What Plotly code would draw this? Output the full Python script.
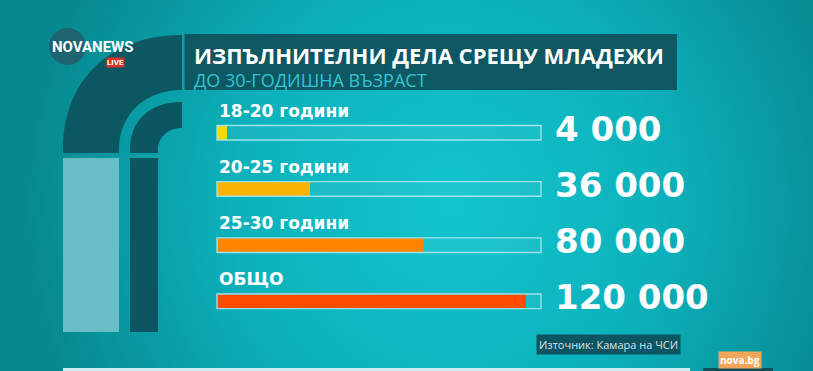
import base64
import plotly.graph_objects as go

# ---- data ----
categories = ["18-20 години", "20-25 години", "25-30 години", "ОБЩО"]
values = [4000, 36000, 80000, 120000]
bar_colors = ["#f4d800", "#f8b300", "#fd8500", "#fe4b00"]
title = "ИЗПЪЛНИТЕЛНИ ДЕЛА СРЕЩУ МЛАДЕЖИ"
subtitle = "ДО 30-ГОДИШНА ВЪЗРАСТ"
source = "Източник: Камара на ЧСИ"
axis_max = 126000

W, H = 813, 371


def px(x):
    return x / W


def py(y):
    return 1 - y / H


def path(tokens):
    out, nums = [], []
    for t in tokens:
        if isinstance(t, str):
            out.append(t)
        else:
            nums.append(t)
            if len(nums) == 2:
                out.append(f"{px(nums[0]):.5f},{py(nums[1]):.5f}")
                nums = []
    return " ".join(out)


def rect(x0, y0, x1, y1, color, **kw):
    return dict(type="rect", xref="paper", yref="paper", x0=px(x0), x1=px(x1),
                y0=py(y1), y1=py(y0), fillcolor=color, line=dict(width=0),
                layer="below", **kw)


# background gradient (decoration only)
svg = f'''<svg xmlns="http://www.w3.org/2000/svg" width="{W}" height="{H}" viewBox="0 0 {W} {H}">
<defs><radialGradient id="g" gradientUnits="userSpaceOnUse" cx="450" cy="205" r="430">
<stop offset="0" stop-color="#13c5cf"/><stop offset="0.5" stop-color="#0cb1bb"/>
<stop offset="1" stop-color="#07878f"/></radialGradient></defs>
<rect width="{W}" height="{H}" fill="url(#g)"/></svg>'''
bg_uri = "data:image/svg+xml;base64," + base64.b64encode(svg.encode()).decode()

fig = go.Figure()
fig.add_trace(go.Bar(
    x=values, y=categories, orientation="h",
    marker=dict(color=bar_colors, line=dict(width=0)),
    width=0.26, hoverinfo="skip",
))

shapes = []
# decorative arcs / blocks
shapes.append(dict(type="path", xref="paper", yref="paper", layer="below",
                   path=path(["M", 63, 153, "L", 63, 150, "C", 63, 80, 110, 35, 182, 35,
                              "L", 182, 90, "C", 145, 90, 119, 114, 119, 150, "L", 119, 153, "Z"]),
                   fillcolor="#0b5862", line=dict(width=0)))
shapes.append(dict(type="path", xref="paper", yref="paper", layer="below",
                   path=path(["M", 130, 153, "L", 130, 150, "C", 130, 120, 150, 102, 182, 102,
                              "L", 182, 128, "C", 168, 128, 158, 137, 158, 150, "L", 158, 153, "Z"]),
                   fillcolor="#0b5660", line=dict(width=0)))
shapes.append(rect(63, 158, 119, 332, "#68bdc7"))
shapes.append(rect(130, 158, 158, 332, "#0b5660"))
shapes.append(rect(184.5, 34, 677, 90, "#0d5862"))
# bottom strip
shapes.append(rect(63, 368, 690, 372, "#cdeef1"))
shapes.append(rect(703, 368, 773, 372, "#0d4f58"))
# logo circle
shapes.append(dict(type="circle", xref="paper", yref="paper", layer="below",
                   x0=px(49), x1=px(86), y0=py(65), y1=py(28),
                   fillcolor="#1d6470", line=dict(width=0)))

# bar tracks
for i, _ in enumerate(categories):
    shapes.append(dict(type="rect", xref="x domain", yref="y", x0=0, x1=1,
                       y0=i - 0.13, y1=i + 0.13, layer="below",
                       fillcolor="rgba(255,255,255,0.05)", line=dict(width=0)))
    shapes.append(dict(type="rect", xref="x domain", yref="y", x0=0, x1=1,
                       y0=i - 0.13, y1=i + 0.13, layer="above",
                       fillcolor="rgba(0,0,0,0)", line=dict(width=1.4, color="#9fe3e9")))

annotations = []
for cat, v in zip(categories, values):
    annotations.append(dict(xref="x domain", yref="y", x=0, y=cat, xanchor="left",
                            yanchor="middle", yshift=22, showarrow=False, text=f"<b>{cat}</b>",
                            font=dict(family="DejaVu Sans", size=17, color="white")))
    annotations.append(dict(xref="x domain", yref="y", x=1, y=cat, xanchor="left",
                            yanchor="middle", xshift=12, yshift=4, showarrow=False,
                            text="<b>" + f"{v:,}".replace(",", " ") + "</b>",
                            font=dict(family="DejaVu Sans", size=34, color="white")))

annotations += [
    dict(xref="paper", yref="paper", x=px(192), y=py(65.5), xanchor="left", yanchor="middle",
         showarrow=False, align="left",
         text=f'<span style="font-size:22px;color:white"><b>{title}</b></span><br>{subtitle}',
         font=dict(family="Open Sans", size=18, color="#33c4d4")),
    dict(xref="paper", yref="paper", x=px(608), y=py(344.5), xanchor="center", yanchor="middle",
         showarrow=False, text=source, bgcolor="#0d5560", borderpad=2,
         font=dict(family="Open Sans", size=11, color="#d6e4e7")),
    dict(xref="paper", yref="paper", x=px(740), y=py(360), xanchor="center", yanchor="middle",
         showarrow=False, text="<b>nova.bg</b>", bgcolor="#f0a65a", borderpad=1,
         font=dict(family="Open Sans", size=10, color="white")),
    dict(xref="paper", yref="paper", x=px(50), y=py(47), xanchor="left", yanchor="middle",
         showarrow=False, text="<b>NOVA</b><b>NEWS</b>",
         font=dict(family="Roboto", size=15, color="white")),
    dict(xref="paper", yref="paper", x=px(115), y=py(62), xanchor="center", yanchor="middle",
         showarrow=False, text="<b>LIVE</b>", bgcolor="#d6322a", borderpad=0,
         font=dict(family="Roboto", size=8, color="white")),
]

top_px = 133.5 - 28.83
bot_px = 306.5 + 28.83
fig.update_layout(
    width=W, height=H, margin=dict(l=0, r=0, t=0, b=0),
    paper_bgcolor="#0aa3ad", plot_bgcolor="rgba(0,0,0,0)",
    showlegend=False, bargap=0,
    xaxis=dict(domain=[px(217), px(541)], range=[0, axis_max], visible=False, fixedrange=True),
    yaxis=dict(domain=[py(bot_px), py(top_px)], type="category", autorange="reversed",
               visible=False, fixedrange=True),
    shapes=shapes, annotations=annotations,
    images=[dict(source=bg_uri, xref="paper", yref="paper", x=0, y=1, sizex=1, sizey=1,
                 xanchor="left", yanchor="top", sizing="stretch", layer="below")],
)

fig.write_html("out.html", config={"displayModeBar": False},
               post_script="document.body.style.margin='0';document.body.style.padding='0';"
                           "document.body.style.overflow='hidden';")
